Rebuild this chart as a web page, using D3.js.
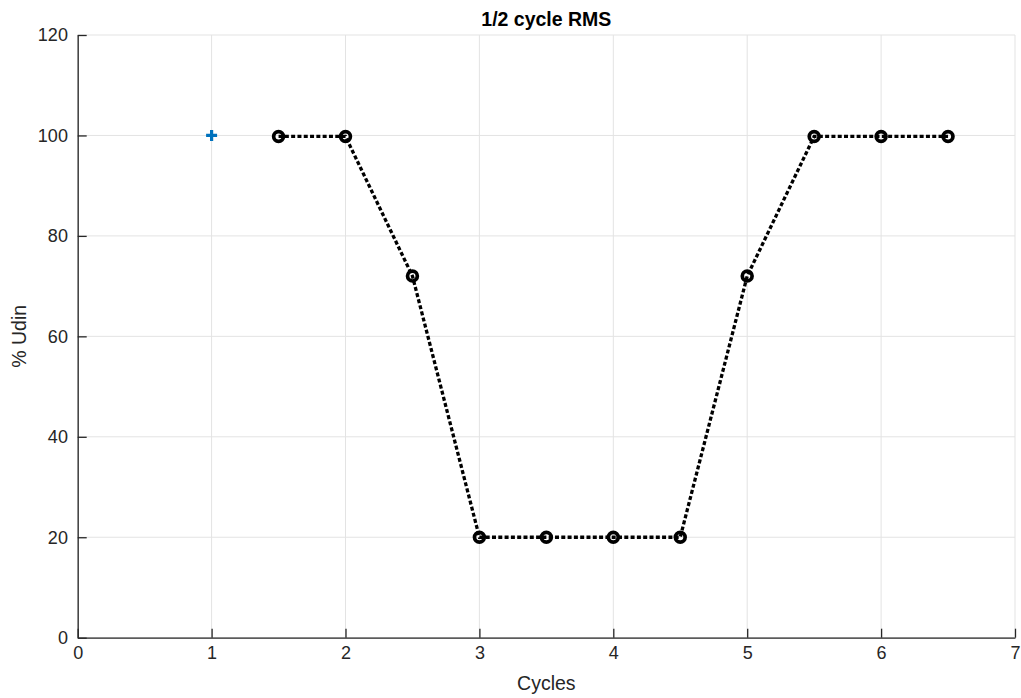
<!DOCTYPE html>
<html>
<head>
<meta charset="utf-8">
<script src="https://cdn.jsdelivr.net/npm/d3@7"></script>
<style>
    body { margin: 0; background: #fff; }
    svg { display: block; font-family: "Liberation Sans", Arial, sans-serif; }
</style>
</head>
<body>
<div id="root"></div>
<script>
// data
var cycles = [1.5, 2, 2.5, 3, 3.5, 4, 4.5, 5, 5.5, 6, 6.5];
var udin = [99.8, 99.8, 72, 20, 20, 20, 20, 72, 99.8, 99.8, 99.8];
var refPoint = [1, 100];
var xTicks = [0, 1, 2, 3, 4, 5, 6, 7];
var yTicks = [0, 20, 40, 60, 80, 100, 120];

var margin = { top: 35, right: 6, bottom: 60.3, left: 77.7 },
    width = 1021 - margin.left - margin.right,
    height = 698 - margin.top - margin.bottom;

var svg = d3
    .select("#root")
    .append("svg")
    .attr("width", 1021)
    .attr("height", 698);

var g = svg.append("g")
    .attr("transform", "translate(" + margin.left + "," + margin.top + ")");

var x = d3.scaleLinear().domain([0, 7]).range([0, width]);
var y = d3.scaleLinear().domain([0, 120]).range([height, 0]);

// grid
g.append("g")
    .selectAll("line")
    .data(xTicks)
    .enter()
    .append("line")
    .attr("x1", (d) => x(d))
    .attr("x2", (d) => x(d))
    .attr("y1", 0)
    .attr("y2", height)
    .style("stroke", "#e3e3e3")
    .style("stroke-width", 1);
g.append("g")
    .selectAll("line")
    .data(yTicks)
    .enter()
    .append("line")
    .attr("x1", 0)
    .attr("x2", width)
    .attr("y1", (d) => y(d))
    .attr("y2", (d) => y(d))
    .style("stroke", "#e3e3e3")
    .style("stroke-width", 1);

// axes, ticks pointing inward
var xAxis = g.append("g")
    .attr("transform", "translate(0," + height + ")")
    .call(d3.axisBottom(x).tickValues(xTicks).tickFormat(d3.format("d"))
        .tickSize(-9).tickPadding(18).tickSizeOuter(0));
var yAxis = g.append("g")
    .call(d3.axisLeft(y).tickValues(yTicks).tickFormat(d3.format("d"))
        .tickSize(-9).tickPadding(17).tickSizeOuter(0));

[xAxis, yAxis].forEach((a) => {
    a.select(".domain").style("stroke", "#262626").style("stroke-width", 1.3);
    a.selectAll(".tick line").style("stroke", "#262626").style("stroke-width", 1.3);
    a.selectAll(".tick text")
        .style("font-size", "18px")
        .style("fill", "#262626")
        .style("font-family", "'Liberation Sans', Arial, sans-serif");
});
xAxis.selectAll(".tick text").attr("dy", "0.2em");
yAxis.selectAll(".tick text").attr("dx", "0.4em");

// line
var line = d3.line()
    .x((d, i) => x(cycles[i]))
    .y((d) => y(d));

g.append("path")
    .datum(udin)
    .attr("d", line)
    .style("fill", "none")
    .style("stroke", "#000")
    .style("stroke-width", 3.3)
    .style("stroke-dasharray", "4,2.3");

g.append("g")
    .selectAll("circle")
    .data(udin)
    .enter()
    .append("circle")
    .attr("cx", (d, i) => x(cycles[i]))
    .attr("cy", (d) => y(d))
    .attr("r", 4.9)
    .style("fill", "none")
    .style("stroke", "#000")
    .style("stroke-width", 3.7);

// reference marker "+"
var px = x(refPoint[0]), py = y(refPoint[1]);
g.append("path")
    .attr("d", "M" + (px - 5.5) + "," + py + "H" + (px + 5.5) + "M" + px + "," + (py - 5.5) + "V" + (py + 5.5))
    .style("stroke", "#0072BD")
    .style("stroke-width", 3.2);

// labels
svg.append("text")
    .attr("x", margin.left + width / 2)
    .attr("y", 26)
    .attr("text-anchor", "middle")
    .style("font-size", "19.5px")
    .style("font-weight", "bold")
    .style("fill", "#000")
    .text("1/2 cycle RMS");

svg.append("text")
    .attr("x", margin.left + width / 2)
    .attr("y", 690)
    .attr("text-anchor", "middle")
    .style("font-size", "19.5px")
    .style("fill", "#262626")
    .text("Cycles");

svg.append("text")
    .attr("transform", "translate(26," + (margin.top + height / 2) + ") rotate(-90)")
    .attr("text-anchor", "middle")
    .style("font-size", "19.5px")
    .style("fill", "#262626")
    .text("% Udin");
</script>
</body>
</html>
